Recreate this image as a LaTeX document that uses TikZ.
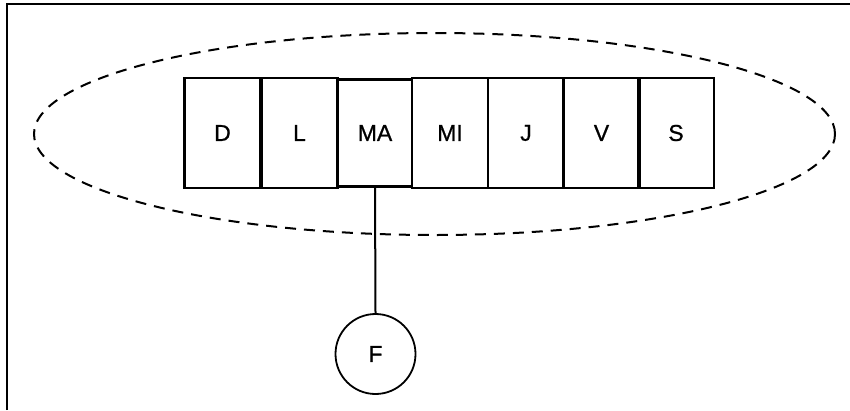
\documentclass[tikz,border=0pt]{standalone}
\usepackage{fontspec}
\setmainfont{Liberation Sans}
\newfontfamily\labelfont{Liberation Sans}[FakeBold=0.8]
\usetikzlibrary{shapes.geometric}
\begin{document}
\begin{tikzpicture}[x=1pt,y=-1pt,
  day/.style={draw,line width=2.2pt,minimum width=76pt,minimum height=110pt,inner sep=0pt,font=\labelfont\fontsize{23}{27}\selectfont},
  frame/.style={line width=2.2pt},
  week/.style={draw,dashed,dash pattern=on 11pt off 8pt,line width=2pt},
  link/.style={line width=2pt},
  fnode/.style={draw,circle,line width=1.8pt,minimum size=80pt,inner sep=0pt,font=\labelfont\fontsize{23}{27}\selectfont}]
\useasboundingbox (0,0) rectangle (850,410);
\coordinate (tl) at (7,4);
\coordinate (tr) at (850,4);
\coordinate (bl) at (7,410);
\draw[frame] (bl) -- (tl) -- (tr);
\node[week,ellipse,minimum width=801pt,minimum height=202pt,inner sep=0pt] (wk) at (434.5,134) {};
\node[day] (d) at (222.5,133) {D};
\node[day] (l) at (299.5,133) {L};
\node[day] (mi) at (450,133) {MI};
\node[day] (j) at (526,133) {J};
\node[day] (v) at (601.5,133) {V};
\node[day] (s) at (676,133) {S};
\node[day,minimum width=74pt,minimum height=107pt,line width=2.6pt] (ma) at (375,133) {MA};
\node[fnode] (f) at (375.5,354) {F};
\draw[link] (ma.south) -- (f.north);
\end{tikzpicture}
\end{document}
